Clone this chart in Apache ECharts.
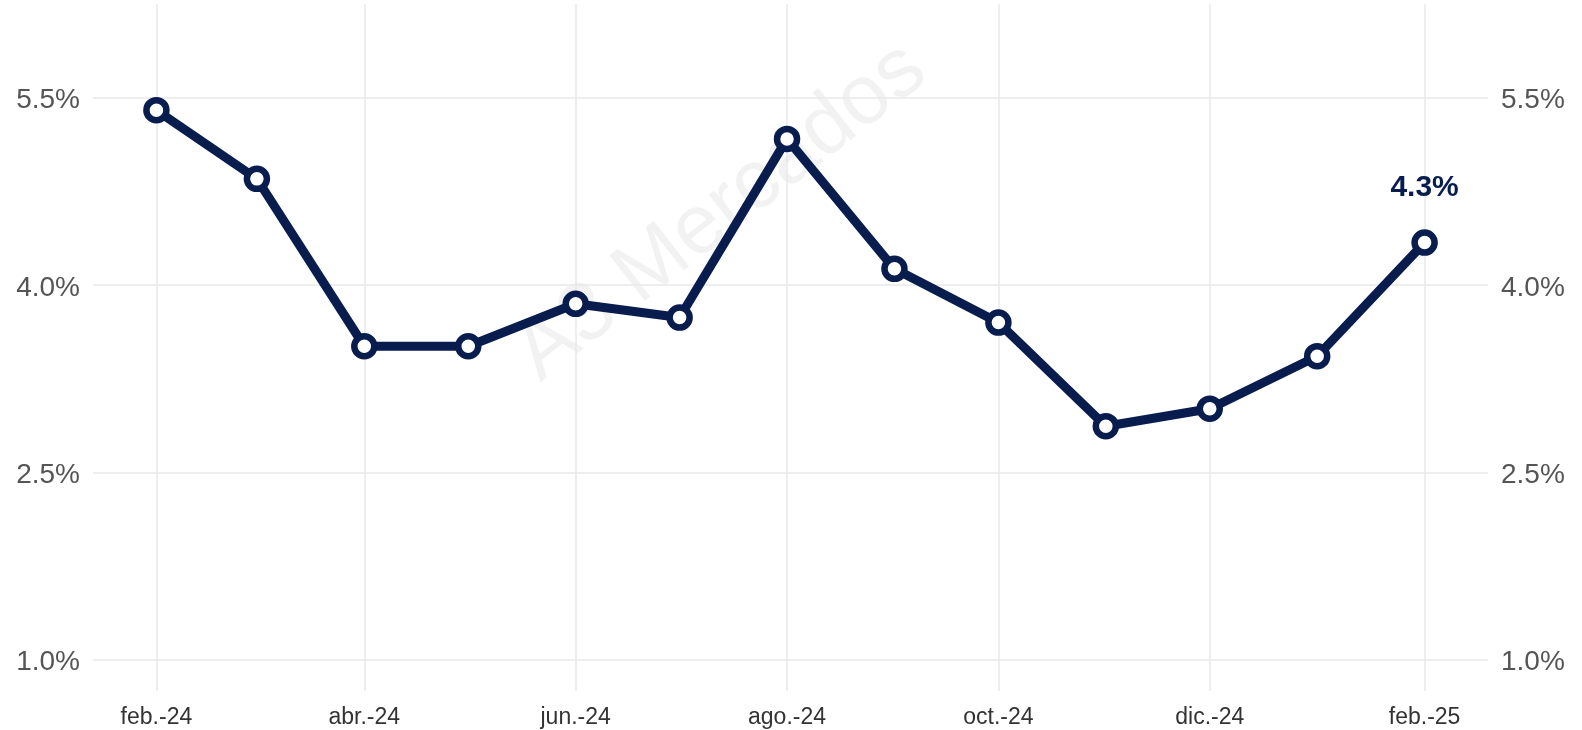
<!DOCTYPE html>
<html>
<head>
<meta charset="utf-8">
<script src="https://cdn.jsdelivr.net/npm/echarts@6/dist/echarts.min.js"></script>
<style>
  html, body { margin: 0; padding: 0; background: #fff; }
  #chart { width: 1582px; height: 730px; }
</style>
</head>
<body>
<div id="chart"></div>
<script>
// datos
const months = ['2024-02-01', '2024-03-01', '2024-04-01', '2024-05-01', '2024-06-01', '2024-07-01',
  '2024-08-01', '2024-09-01', '2024-10-01', '2024-11-01', '2024-12-01', '2025-01-01', '2025-02-01']
const values = [5.40, 4.85, 3.51, 3.51, 3.85, 3.74, 5.17, 4.13, 3.70, 2.87, 3.01, 3.43, 4.34]
const tickDates = ['2024-02-01', '2024-04-01', '2024-06-01', '2024-08-01', '2024-10-01', '2024-12-01', '2025-02-01']
const tickLabels = ['feb.-24', 'abr.-24', 'jun.-24', 'ago.-24', 'oct.-24', 'dic.-24', 'feb.-25']
const yTicks = [1.0, 2.5, 4.0, 5.5]

const navy = '#081c4e'
const gridColor = '#e8e8e8'
const labelColor = '#555555'
const font = '"Liberation Sans", Arial, sans-serif'

// fecha -> días desde 1970 (UTC), para un eje lineal en días
function day(s) {
  const p = s.split('-').map(Number)
  return Date.UTC(p[0], p[1] - 1, p[2]) / 86400000
}

const first = day(months[0])
const last = day(months[months.length - 1])
const pad = (last - first) * 0.05
const tickDays = tickDates.map(day)

const seriesData = months.map(function(m, i) {
  const item = { value: [day(m), values[i]] }
  if (i === months.length - 1) {
    item.label = {
      show: true,
      position: 'top',
      distance: 27,
      formatter: function(p) { return p.value[1].toFixed(1) + '%' },
      color: navy,
      fontWeight: 'bold',
      fontSize: 30,
      fontFamily: font
    }
  }
  return item
})

const chart = echarts.init(document.getElementById('chart'))

// eje y (se repite a la derecha)
function yAxis(pos) {
  return {
    type: 'value',
    position: pos,
    min: 0.75,
    max: 6.25,
    axisLine: { show: false },
    axisTick: { show: false, customValues: yTicks },
    axisLabel: {
      customValues: yTicks,
      margin: 13,
      color: labelColor,
      fontSize: 28,
      fontFamily: font,
      formatter: function(v) { return '{v|' + v.toFixed(1) + '%}' },
      rich: {
        v: { padding: [6, 0, 0, 0], color: labelColor, fontSize: 28, fontFamily: font }
      }
    },
    splitLine: { show: pos === 'left', lineStyle: { color: gridColor, width: 1.5 } }
  }
}

const option = {
  backgroundColor: '#fff',
  animation: false,
  grid: {
    left: 93,
    right: 94,
    top: 4,
    bottom: 39,
    containLabel: false,
    outerBoundsMode: 'none'
  },
  graphic: [{
    type: 'text',
    x: 721,
    y: 212,
    rotation: 38 * Math.PI / 180,
    z: -1,
    style: {
      text: 'A3 Mercados',
      fontSize: 84,
      fontFamily: font,
      fill: 'rgba(0,0,0,0.05)',
      align: 'center',
      verticalAlign: 'middle'
    }
  }],
  xAxis: {
    type: 'value',
    min: first - pad,
    max: last + pad,
    axisLine: { show: false },
    axisTick: { show: false, customValues: tickDays },
    axisLabel: {
      customValues: tickDays,
      margin: 15,
      color: '#333333',
      fontSize: 23,
      fontFamily: font,
      formatter: function(v) {
        const i = tickDays.indexOf(v)
        return i >= 0 ? tickLabels[i] : ''
      }
    },
    splitLine: { show: true, lineStyle: { color: gridColor, width: 1.5 } }
  },
  yAxis: [yAxis('left'), yAxis('right')],
  series: [{
    type: 'line',
    data: seriesData,
    symbol: 'circle',
    symbolSize: 20,
    lineStyle: { color: navy, width: 9 },
    itemStyle: { color: '#ffffff', borderColor: navy, borderWidth: 6.5 },
    label: { show: false },
    emphasis: { disabled: true },
    z: 3
  }]
}

chart.setOption(option)
</script>
</body>
</html>
